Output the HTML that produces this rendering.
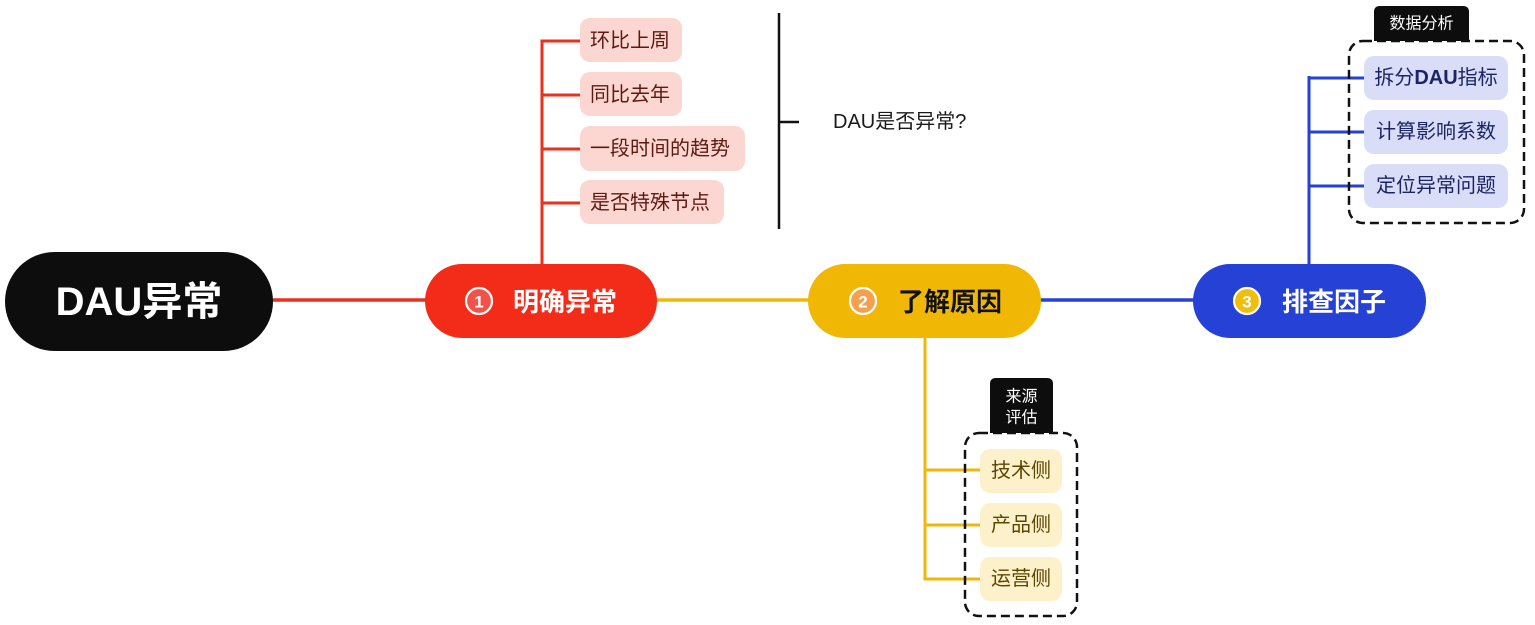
<!DOCTYPE html>
<html>
<head>
<meta charset="utf-8">
<style>
  html,body{margin:0;padding:0;background:#fff;}
  body{width:1535px;height:625px;overflow:hidden;}
  svg{display:block;}
  text{font-family:"Liberation Sans","Noto Sans CJK SC",sans-serif;}
</style>
</head>
<body>
<svg width="1535" height="625" viewBox="0 0 1535 625" xmlns="http://www.w3.org/2000/svg">
  <!-- main connectors -->
  <line x1="270" y1="300" x2="430" y2="300" stroke="#e8321e" stroke-width="3.5"/>
  <line x1="652" y1="300" x2="812" y2="300" stroke="#f0b70a" stroke-width="3.5"/>
  <line x1="1036" y1="300" x2="1198" y2="300" stroke="#2541d6" stroke-width="3.5"/>

  <!-- red branch -->
  <g stroke="#e8321e" stroke-width="3" fill="none">
    <line x1="542" y1="40" x2="542" y2="266"/>
    <line x1="540.5" y1="41" x2="582" y2="41"/>
    <line x1="540.5" y1="95" x2="582" y2="95"/>
    <line x1="540.5" y1="149" x2="582" y2="149"/>
    <line x1="540.5" y1="203" x2="582" y2="203"/>
  </g>
  <g fill="#fcd6d1">
    <rect x="580" y="18" width="102" height="44" rx="10"/>
    <rect x="580" y="72" width="102" height="44" rx="10"/>
    <rect x="580" y="126" width="165" height="45" rx="10"/>
    <rect x="580" y="180" width="144" height="44" rx="10"/>
  </g>
  <g fill="#5e1a12" font-size="20" dominant-baseline="central">
    <text x="590" y="41">环比上周</text>
    <text x="590" y="95">同比去年</text>
    <text x="590" y="149">一段时间的趋势</text>
    <text x="590" y="203">是否特殊节点</text>
  </g>

  <!-- black bracket -->
  <line x1="779" y1="13" x2="779" y2="229" stroke="#111" stroke-width="2.5"/>
  <line x1="778" y1="122" x2="799" y2="122" stroke="#111" stroke-width="2.5"/>
  <text x="833" y="122" font-size="20" fill="#1a1a1a" dominant-baseline="central">DAU是否异常?</text>

  <!-- yellow branch -->
  <g stroke="#f0b70a" stroke-width="3" fill="none">
    <line x1="925" y1="336" x2="925" y2="580"/>
    <line x1="923.5" y1="470" x2="982" y2="470"/>
    <line x1="923.5" y1="525" x2="982" y2="525"/>
    <line x1="923.5" y1="579" x2="982" y2="579"/>
  </g>
  <rect x="965" y="433" width="112" height="183" rx="14" fill="none" stroke="#111" stroke-width="2.5" stroke-dasharray="9 5"/>
  <path d="M990 433 V384 Q990 378 996 378 H1047 Q1053 378 1053 384 V433 Z" fill="#0d0d0d"/>
  <g fill="#fff" font-size="16" text-anchor="middle" dominant-baseline="central">
    <text x="1021.5" y="397">来源</text>
    <text x="1021.5" y="418">评估</text>
  </g>
  <g fill="#fdf1cc">
    <rect x="980" y="449" width="82" height="44" rx="10"/>
    <rect x="980" y="503" width="82" height="44" rx="10"/>
    <rect x="980" y="557" width="82" height="44" rx="10"/>
  </g>
  <g fill="#5a4700" font-size="20" text-anchor="middle" dominant-baseline="central">
    <text x="1021" y="471">技术侧</text>
    <text x="1021" y="525">产品侧</text>
    <text x="1021" y="579">运营侧</text>
  </g>

  <!-- blue branch -->
  <g stroke="#2541d6" stroke-width="3" fill="none">
    <line x1="1309" y1="76" x2="1309" y2="266"/>
    <line x1="1307.5" y1="78" x2="1366" y2="78"/>
    <line x1="1307.5" y1="132" x2="1366" y2="132"/>
    <line x1="1307.5" y1="186" x2="1366" y2="186"/>
  </g>
  <rect x="1349" y="41" width="175" height="182" rx="14" fill="none" stroke="#111" stroke-width="2.5" stroke-dasharray="9 5"/>
  <path d="M1374 41 V12 Q1374 6 1380 6 H1463 Q1469 6 1469 12 V41 Z" fill="#0d0d0d"/>
  <text x="1421.5" y="24" fill="#fff" font-size="16" text-anchor="middle" dominant-baseline="central">数据分析</text>
  <g fill="#d9ddf7">
    <rect x="1364" y="56" width="144" height="44" rx="10"/>
    <rect x="1364" y="110" width="144" height="44" rx="10"/>
    <rect x="1364" y="164" width="144" height="44" rx="10"/>
  </g>
  <g fill="#1b2466" font-size="20" text-anchor="middle" dominant-baseline="central">
    <text x="1436" y="78">拆分<tspan font-weight="bold">DAU</tspan>指标</text>
    <text x="1436" y="132">计算影响系数</text>
    <text x="1436" y="186">定位异常问题</text>
  </g>

  <!-- root -->
  <rect x="5" y="252" width="268" height="99" rx="49.5" fill="#0d0d0d"/>
  <text x="139" y="302" fill="#fff" font-size="40" font-weight="bold" text-anchor="middle" dominant-baseline="central">DAU异常</text>

  <!-- node 1 -->
  <rect x="425" y="264" width="232" height="74" rx="37" fill="#f22c18"/>
  <circle cx="479" cy="301" r="13" fill="#f2524a" stroke="#fff" stroke-width="2.2"/>
  <text x="479" y="302" fill="#fff" font-size="17" font-weight="bold" text-anchor="middle" dominant-baseline="central">1</text>
  <text x="513" y="302" fill="#fff" font-size="26" font-weight="bold" dominant-baseline="central">明确异常</text>

  <!-- node 2 -->
  <rect x="808" y="264" width="233" height="74" rx="37" fill="#f0b705"/>
  <circle cx="863" cy="301" r="13" fill="#f5a04c" stroke="#fff" stroke-width="2.2"/>
  <text x="863" y="302" fill="#fff" font-size="17" font-weight="bold" text-anchor="middle" dominant-baseline="central">2</text>
  <text x="898" y="302" fill="#111" font-size="26" font-weight="bold" dominant-baseline="central">了解原因</text>

  <!-- node 3 -->
  <rect x="1193" y="264" width="233" height="74" rx="37" fill="#2541d6"/>
  <circle cx="1247" cy="301" r="13" fill="#f0bd0a" stroke="#fff" stroke-width="2.2"/>
  <text x="1247" y="302" fill="#fff" font-size="17" font-weight="bold" text-anchor="middle" dominant-baseline="central">3</text>
  <text x="1282" y="302" fill="#fff" font-size="26" font-weight="bold" dominant-baseline="central">排查因子</text>
</svg>
</body>
</html>
